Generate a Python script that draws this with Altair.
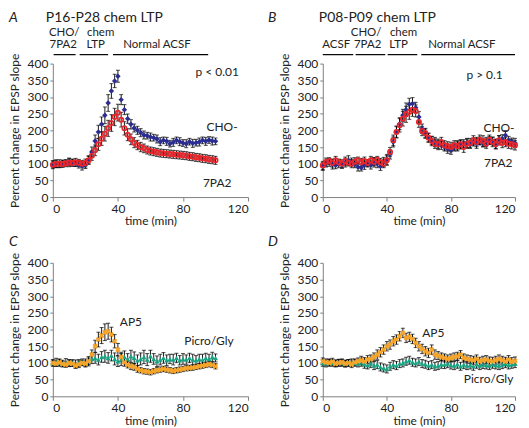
import altair as alt
import pandas as pd

FONT = "Lato"

# ---------------- data ----------------
A_t = list(range(0, 101, 2))
A_cho = [98, 100, 97, 101, 103, 106, 104, 100, 97, 93, 96,
         112, 135, 168, 195, 218, 245, 282, 318, 348, 362,
         292, 262, 235, 218, 207, 200, 193, 186, 184, 180, 178, 174, 166, 170, 167,
         160, 164, 170, 166, 162, 160, 166, 161, 163, 165, 170, 167, 171, 168, 167]
A_cho_err = [10, 12, 8, 10, 9, 11, 10, 8, 10, 12, 10,
             12, 15, 18, 20, 22, 25, 25, 22, 20, 18,
             15, 15, 14, 14, 12, 12, 12, 12, 10, 12, 10, 12, 12, 10, 12,
             10, 12, 10, 12, 10, 12, 10, 12, 10, 12, 10, 12, 10, 12, 10]
A_7pa2 = [97, 99, 100, 99, 101, 103, 102, 104, 103, 100, 102,
          110, 124, 140, 158, 175, 190, 206, 222, 240, 253,
          232, 206, 187, 173, 163, 156, 150, 146, 141, 138, 136, 134, 132, 131, 130,
          129, 128, 127, 126, 125, 124, 122, 121, 119, 118, 116, 115, 113, 112, 110]
A_7pa2_err = [12, 10, 12, 10, 10, 12, 10, 12, 10, 10, 12,
              12, 14, 16, 18, 20, 22, 24, 25, 26, 25,
              22, 20, 18, 16, 15, 14, 14, 13, 12, 12, 12, 12, 12, 12, 12,
              12, 12, 12, 12, 12, 12, 12, 12, 12, 12, 12, 12, 12, 12, 12]

B_t = list(range(0, 121, 2))
B_cho = [92, 100, 104, 98, 95, 100, 96, 102, 110, 105, 98, 90, 88, 95, 100, 96, 104, 100, 92, 105, 112,
         128, 165, 195, 220, 245, 262, 278, 280, 268, 240,
         205, 190, 178, 170, 165, 158, 155, 150, 145, 140, 150, 155, 158, 160, 162,
         158, 165, 160, 168, 162, 165, 170, 168, 160, 172, 175, 185, 170, 165, 162]
B_cho_err = [12, 10, 12, 14, 10, 12, 10, 12, 14, 12, 10, 12, 10, 12, 10, 12, 14, 12, 12, 14, 16,
             14, 15, 16, 18, 18, 20, 18, 18, 16, 16,
             14, 14, 12, 12, 14, 12, 12, 12, 14, 12, 12, 14, 12, 12, 14,
             12, 12, 14, 12, 12, 14, 12, 12, 14, 12, 12, 14, 12, 12, 14]
B_7pa2 = [95, 105, 108, 102, 110, 104, 100, 108, 103, 100, 106, 110, 104, 108, 102, 110, 106, 112, 104, 100, 110,
          135, 170, 195, 215, 235, 248, 255, 262, 258, 225,
          198, 192, 178, 168, 160, 158, 165, 155, 152, 150, 155, 152, 158, 150, 160,
          162, 170, 165, 172, 168, 160, 172, 165, 158, 170, 162, 165, 160, 158, 155]
B_7pa2_err = [12, 12, 10, 12, 12, 10, 12, 12, 10, 12, 12, 10, 12, 12, 10, 12, 12, 10, 12, 12, 14,
              14, 16, 18, 20, 22, 24, 22, 20, 18, 16,
              14, 14, 14, 14, 14, 16, 14, 14, 14, 14, 14, 14, 14, 16, 14,
              14, 14, 14, 14, 16, 14, 14, 14, 14, 14, 14, 14, 14, 14, 14]

C_t = list(range(0, 101, 2))
C_picro = [100, 102, 100, 98, 101, 99, 100, 97, 100, 102, 100,
           105, 112, 115, 110, 118, 120, 115, 122, 112, 105,
           110, 118, 112, 120, 115, 108, 112, 118, 110, 120, 112, 105, 110, 115, 108,
           112, 110, 115, 108, 112, 110, 115, 110, 108, 112, 110, 115, 112, 118, 115]
C_picro_err = [10, 12, 10, 10, 12, 10, 10, 12, 10, 10, 12,
               14, 14, 16, 16, 16, 18, 16, 16, 18, 16,
               18, 18, 16, 18, 18, 16, 18, 20, 18, 18, 16, 16, 16, 16, 16,
               14, 16, 14, 14, 16, 14, 14, 16, 14, 14, 16, 14, 14, 14, 12]
C_ap5 = [100, 98, 102, 97, 95, 100, 98, 92, 96, 100, 98,
         105, 125, 150, 170, 182, 192, 195, 185, 165, 140,
         118, 102, 95, 90, 88, 82, 78, 75, 74, 72, 75, 78, 80, 82, 80,
         78, 76, 78, 80, 82, 84, 85, 86, 88, 90, 92, 94, 96, 94, 90]
C_ap5_err = [8, 8, 10, 8, 8, 10, 8, 8, 10, 8, 8,
             10, 14, 18, 22, 24, 25, 24, 22, 20, 18,
             14, 12, 10, 10, 10, 10, 8, 8, 8, 8, 8, 8, 8, 8, 8,
             8, 8, 8, 8, 8, 8, 8, 8, 8, 8, 8, 8, 8, 8, 8]

D_t = list(range(0, 121, 2))
D_picro = [100, 98, 102, 100, 99, 101, 100, 98, 100, 102, 100, 98, 102, 96, 94, 98, 92, 95, 88, 85, 82,
           90, 95, 92, 98, 100, 105, 108, 102, 100, 104,
           98, 96, 92, 95, 90, 92, 96, 95, 98, 94, 92, 96, 90, 95, 92,
           94, 90, 96, 92, 95, 94, 92, 96, 94, 92, 95, 98, 94, 96, 98]
D_picro_err = [10, 10, 10, 10, 10, 10, 10, 10, 10, 10, 10, 10, 12, 12, 12, 12, 12, 12, 12, 12, 12,
               12, 12, 12, 12, 12, 12, 12, 12, 12, 12,
               12, 12, 12, 12, 12, 12, 12, 12, 12, 12, 12, 12, 12, 12, 12,
               12, 12, 12, 12, 12, 12, 12, 12, 12, 12, 12, 12, 12, 12, 12]
D_ap5 = [105, 102, 100, 104, 98, 100, 102, 98, 100, 96, 102, 105, 108, 104, 110, 112, 118, 125, 132, 140, 150,
         155, 165, 170, 180, 190, 175, 178, 172, 160, 150,
         142, 135, 130, 140, 125, 122, 118, 115, 112, 115, 118, 120, 125, 115, 112,
         110, 108, 112, 105, 108, 110, 106, 105, 108, 112, 108, 105, 110, 104, 106]
D_ap5_err = [10, 10, 10, 10, 10, 10, 10, 10, 10, 10, 10, 10, 12, 12, 12, 12, 12, 14, 14, 14, 14,
             14, 14, 14, 14, 14, 14, 14, 14, 14, 14,
             14, 14, 14, 14, 14, 12, 12, 12, 12, 12, 12, 12, 12, 12, 12,
             12, 12, 12, 12, 12, 12, 12, 12, 12, 12, 12, 12, 12, 12, 12]

# phase bars above the top panels
A_seg_start = [0.5, 16.5, 37]
A_seg_end = [14, 34, 95.5]
A_top_text = ["CHO/", "chem"]
A_top_t = [7, 29.4]
A_bot_text = ["7PA2", "LTP", "Normal ACSF"]
A_bot_t = [6.4, 26.3, 64]

B_seg_start = [0, 20.5, 40.5, 61.5]
B_seg_end = [19, 39, 59, 120]
B_top_text = ["CHO/", "chem"]
B_top_t = [27, 50.4]
B_bot_text = ["ACSF", "7PA2", "LTP", "Normal ACSF"]
B_bot_t = [8.4, 28, 47.3, 86.8]

# in-plot labels (time, value, text)
A_lab = [(101, 376, "p < 0.01"), (104, 209, "CHO-"), (101, 42, "7PA2")]
B_lab = [(101, 367, "p > 0.1"), (110, 207, "CHO-"), (109.5, 101, "7PA2")]
C_lab = [(48, 224, "AP5"), (96, 165, "Picro/Gly")]
D_lab = [(69, 191, "AP5"), (103.5, 52, "Picro/Gly")]

BLUE, RED, ORANGE, GREEN = "#2a2c90", "#e8262b", "#f5a42a", "#19a383"

XSC = alt.Scale(domain=[0, 120], nice=False, zero=False)
YSC = alt.Scale(domain=[0, 400], nice=False)
XAX = alt.Axis(values=[0, 40, 80, 120], title="time (min)", grid=False, tickSize=4,
               domainColor="#808080", tickColor="#808080", labelColor="#222",
               labelFont=FONT, labelFontSize=12, titleFont=FONT, titleFontSize=12,
               titleFontWeight="normal", titleColor="#222", labelPadding=2, titlePadding=2)
YAX = alt.Axis(values=list(range(0, 401, 50)), title="Percent change in EPSP slope", grid=False,
               tickSize=3, domainColor="#808080", tickColor="#808080", labelColor="#222",
               labelFont=FONT, labelFontSize=12, titleFont=FONT, titleFontSize=12,
               titleFontWeight="normal", titleColor="#222", labelPadding=2, titlePadding=6)


def X(f):
    return alt.X(f, scale=XSC, axis=XAX)


def Y(f):
    return alt.Y(f, scale=YSC, axis=YAX)


def series_layers(t, vals, errs, color, shape, filled, size, angle=0):
    df = pd.DataFrame({"t": t, "v": vals, "e": errs})
    df["lo"] = df["v"] - df["e"]
    df["hi"] = df["v"] + df["e"]
    base = alt.Chart(df)
    err = base.mark_rule(color="black", strokeWidth=0.9).encode(x=X("t:Q"), y=Y("lo:Q"), y2="hi:Q")
    cap1 = base.mark_tick(color="black", thickness=1, size=4, orient="horizontal").encode(x=X("t:Q"), y=Y("hi:Q"))
    cap2 = base.mark_tick(color="black", thickness=1, size=4, orient="horizontal").encode(x=X("t:Q"), y=Y("lo:Q"))
    if filled:
        pts = base.mark_point(shape=shape, filled=True, color=color, size=size, opacity=1, angle=angle)
    else:
        pts = base.mark_point(shape=shape, filled=False, color=color, size=size, opacity=1, strokeWidth=1.8)
    pts = pts.encode(x=X("t:Q"), y=Y("v:Q"))
    return [err, cap1, cap2], [pts]


def text_layer(txt, x, y, size=12, align="left", baseline="middle", style="normal"):
    return alt.Chart(pd.DataFrame({"s": [txt]})).mark_text(
        font=FONT, fontSize=size, align=align, baseline=baseline, fontStyle=style, color="#222"
    ).encode(x=alt.value(x), y=alt.value(y), text="s:N")


def phase_text(ts, texts, ypix):
    df = pd.DataFrame({"t": ts, "s": texts})
    return alt.Chart(df).mark_text(font=FONT, fontSize=11.5, baseline="middle", align="center",
                                   color="#222").encode(x=X("t:Q"), y=alt.value(ypix), text="s:N")


def panel(width, series, labels, letter, letter_x, letter_y, title=None, title_x=0,
          seg=None):
    errs, pts = [], []
    for s in series:
        e, p = series_layers(*s)
        errs += e
        pts += p
    layers = errs + pts
    lab = pd.DataFrame(labels, columns=["t", "v", "s"])
    layers.append(alt.Chart(lab).mark_text(font=FONT, fontSize=12, color="#222").encode(
        x=X("t:Q"), y=Y("v:Q"), text="s:N"))
    if seg is not None:
        sdf = pd.DataFrame({"start": seg[0], "end": seg[1]})
        layers.append(alt.Chart(sdf).mark_rule(color="black", strokeWidth=1.2).encode(
            x=X("start:Q"), x2="end:Q", y=alt.value(-9)))
        layers.append(phase_text(seg[2], seg[3], -31))
        layers.append(phase_text(seg[4], seg[5], -19))
    layers.append(text_layer(letter, letter_x, letter_y, size=14, baseline="middle", style="italic"))
    if title:
        layers.append(text_layer(title, title_x, letter_y, size=14, baseline="middle"))
    return alt.layer(*layers).properties(width=width, height=134)


pA = panel(196, [(A_t, A_cho, A_cho_err, BLUE, "diamond", True, 30),
                 (A_t, A_7pa2, A_7pa2_err, RED, "circle", False, 18)],
           A_lab, "A", -44, -46, "P16-P28 chem LTP", -7,
           seg=(A_seg_start, A_seg_end, A_top_t, A_top_text, A_bot_t, A_bot_text))
pB = panel(193, [(B_t, B_cho, B_cho_err, BLUE, "diamond", True, 30),
                 (B_t, B_7pa2, B_7pa2_err, RED, "circle", False, 18)],
           B_lab, "B", -55, -46, "P08-P09 chem LTP", -4,
           seg=(B_seg_start, B_seg_end, B_top_t, B_top_text, B_bot_t, B_bot_text))
pC = panel(196, [(C_t, C_picro, C_picro_err, GREEN, "triangle-up", True, 26),
                 (C_t, C_ap5, C_ap5_err, ORANGE, "cross", True, 30, 45)],
           C_lab, "C", -44, -21)
pD = panel(193, [(D_t, D_picro, D_picro_err, GREEN, "triangle-up", True, 26),
                 (D_t, D_ap5, D_ap5_err, ORANGE, "cross", True, 30, 45)],
           D_lab, "D", -55, -21)

chart = alt.concat(pA, pB, pC, pD, columns=2, spacing={"row": 66, "column": 75},
                   bounds="flush").properties(
    padding={"left": 0, "top": 2, "right": 0, "bottom": 0}
).configure_view(stroke=None)

chart.save("out.html", embed_options={"renderer": "svg", "actions": False})
